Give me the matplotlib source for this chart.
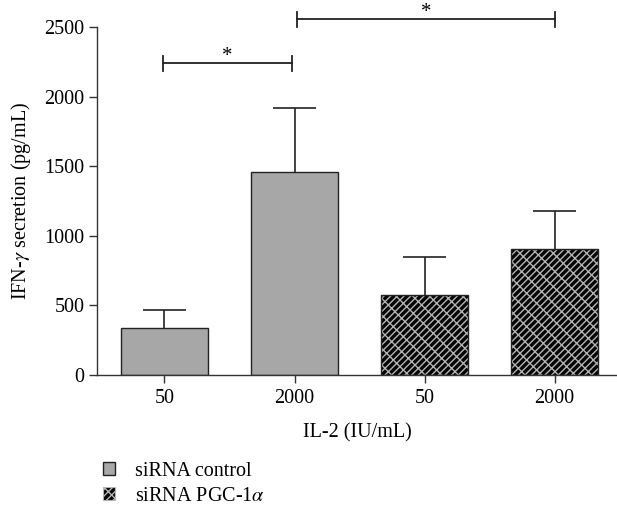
import matplotlib
matplotlib.use("Agg")
import matplotlib.pyplot as plt
from matplotlib.patches import Patch

plt.rcParams['font.family'] = ['Liberation Serif', 'DejaVu Serif']
plt.rcParams['mathtext.fontset'] = 'stix'
plt.rcParams['hatch.linewidth'] = 1.0

tick_labels = ["50", "2000", "50", "2000"]
means = [338, 1455, 575, 905]
errors = [128, 465, 270, 272]
groups = ["control", "control", "pgc", "pgc"]
brackets = [(0, 1, 2240), (1, 3, 2555)]

HATCH = "/////\\\\"
FS = 14.5

fig = plt.figure(figsize=(6.17, 5.14), dpi=100)
ax = fig.add_axes([0.157, 0.2704, 0.843, 0.677])

x = list(range(len(means)))
width = 0.67
tops = [m + e for m, e in zip(means, errors)]
ax.vlines(x, means, tops, color="#222222", lw=1.2, zorder=1)
ax.hlines(tops, [i - 0.165 for i in x], [i + 0.165 for i in x], color="#222222", lw=1.2, zorder=1)

for i in x:
    if groups[i] == "control":
        ax.bar(i, means[i], width, color="#a7a7a7", edgecolor="#222222", linewidth=1, zorder=2)
    else:
        ax.bar(i, means[i], width, color="#050505", edgecolor="#b4b4b4", hatch=HATCH, linewidth=0, zorder=2)
        ax.bar(i, means[i], width, fill=False, edgecolor="#222222", linewidth=1, zorder=3)

for a, b, h in brackets:
    xa = a + 0.02 if a > 0 else a - 0.01
    xb = b - 0.02 if b == 1 else b
    ax.plot([xa, xb], [h, h], color="#222222", lw=1.3, clip_on=False)
    ax.plot([xa, xa], [h - 55, h + 55], color="#222222", lw=1.3, clip_on=False)
    ax.plot([xb, xb], [h - 55, h + 55], color="#222222", lw=1.3, clip_on=False)
    ax.annotate("*", ((xa + xb) / 2, h), xytext=(0, 5), textcoords="offset points",
                ha="center", va="center", fontsize=15, annotation_clip=False)

ax.set_xlim(-0.52, 3.48)
ax.set_ylim(0, 2500)
ax.set_yticks([0, 500, 1000, 1500, 2000, 2500])
ax.set_xticks(x)
ax.set_xticklabels(tick_labels)
for s in ["top", "right"]:
    ax.spines[s].set_visible(False)
for s in ["left", "bottom"]:
    ax.spines[s].set_color("#333333")
    ax.spines[s].set_linewidth(1)
ax.tick_params(axis="both", labelsize=FS, color="#333333", length=6, width=1)
ax.tick_params(axis="x", pad=4)
ax.tick_params(axis="y", pad=3)
ax.set_xlabel("IL-2 (IU/mL)", fontsize=FS, labelpad=11)
ax.set_ylabel(r"IFN-$\gamma$ secretion (pg/mL)", fontsize=FS, labelpad=8)

handles = [
    Patch(facecolor="#a7a7a7", edgecolor="#222222", linewidth=1),
    Patch(facecolor="#050505", edgecolor="#b4b4b4", hatch=HATCH, linewidth=0.8),
]
fig.legend(handles, ["siRNA control", r"siRNA PGC-1$\alpha$"], loc="upper left",
           bbox_to_anchor=(0.167, 0.102), frameon=False, fontsize=FS,
           handlelength=0.6, handleheight=0.6, handletextpad=1.0, labelspacing=0.3,
           borderaxespad=0, borderpad=0)

fig.savefig("out.png", dpi=100)
